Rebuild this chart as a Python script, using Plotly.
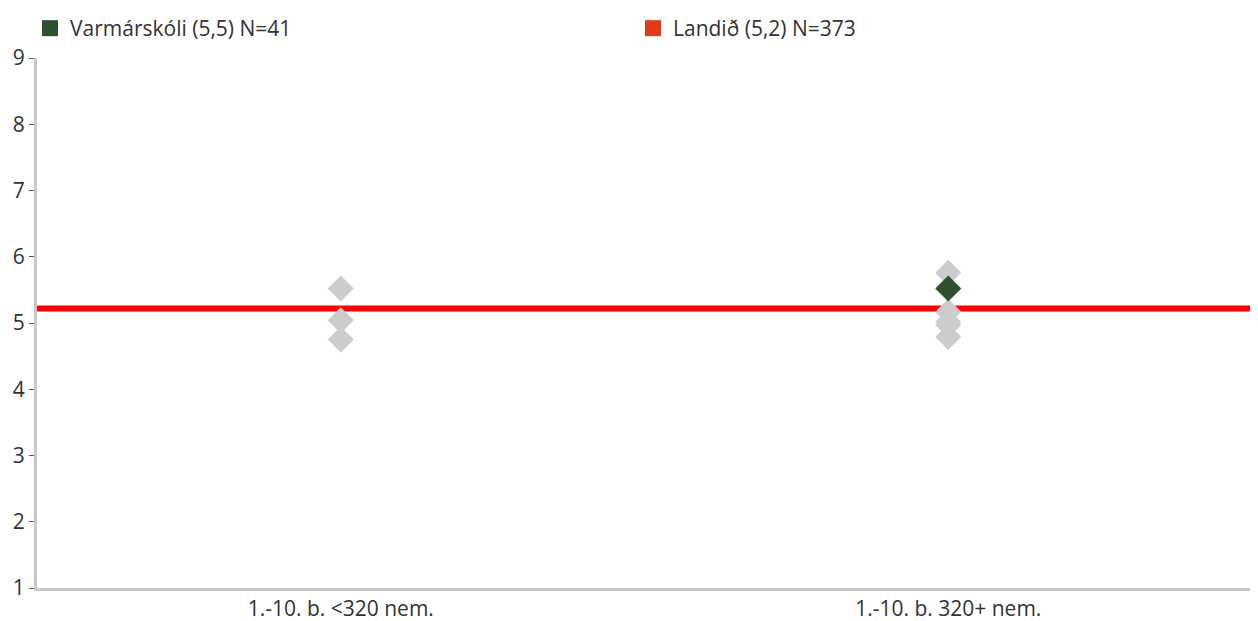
import plotly.graph_objects as go

categories = ["1.-10. b. <320 nem.", "1.-10. b. 320+ nem."]
# Other schools (grey diamonds) per category
others_cat1 = [5.52, 5.04, 4.75]
others_cat2 = [5.76, 5.17, 5.02, 4.97, 4.79]
# Selected school
school_name = "Varmárskóli (5,5) N=41"
school_cat = categories[1]
school_value = 5.52
# National average
national_name = "Landið (5,2) N=373"
national_value = 5.22

yticks = [1, 2, 3, 4, 5, 6, 7, 8, 9]

FONT = "Open Sans"
fig = go.Figure()

ox = [categories[0]] * len(others_cat1) + [categories[1]] * len(others_cat2)
oy = others_cat1 + others_cat2
fig.add_trace(go.Scatter(x=ox, y=oy, mode="markers", showlegend=False,
                         marker=dict(symbol="diamond", size=20, color="#CCCCCC"),
                         hoverinfo="y"))
fig.add_trace(go.Scatter(x=[school_cat], y=[school_value], mode="markers", showlegend=False,
                         marker=dict(symbol="diamond", size=20, color="#2E5130")))
# legend entries
fig.add_trace(go.Scatter(x=[None], y=[None], mode="markers", name=school_name,
                         marker=dict(symbol="square", size=16, color="#2E5130")))
fig.add_trace(go.Scatter(x=[None], y=[None], mode="markers", name=national_name,
                         marker=dict(symbol="square", size=16, color="#E03C1A")))

fig.add_shape(type="line", xref="paper", x0=0, x1=1, yref="y", y0=national_value, y1=national_value,
              line=dict(color="#FF0000", width=6), layer="below")

W, H = 1250, 613
fig.update_layout(
    width=W, height=H,
    margin=dict(l=29, r=6, t=50, b=33, autoexpand=False),
    paper_bgcolor="white", plot_bgcolor="white",
    font=dict(family=FONT, size=21, color="#333333"),
    showlegend=True,
    legend=dict(orientation="h", x=22 / W, y=1, xanchor="left", yanchor="top",
                xref="container", yref="container",
                entrywidth=558, entrywidthmode="pixels",
                font=dict(size=21, color="#333333"), itemwidth=30,
                traceorder="normal"),
    xaxis=dict(type="category", categoryorder="array", categoryarray=categories,
               range=[-0.5, 1.5], showgrid=False, zeroline=False,
               showline=True, linecolor="#C8C8C8", linewidth=3,
               ticks="", tickfont=dict(size=21), fixedrange=True, automargin=False),
    yaxis=dict(range=[1, 9], tickvals=yticks, showgrid=False, zeroline=False,
               showline=True, linecolor="#C8C8C8", linewidth=3,
               ticks="outside", ticklen=5, tickcolor="#555555", tickwidth=1,
               tickfont=dict(size=21), fixedrange=True, automargin=False),
)

fig.write_html("out.html")
